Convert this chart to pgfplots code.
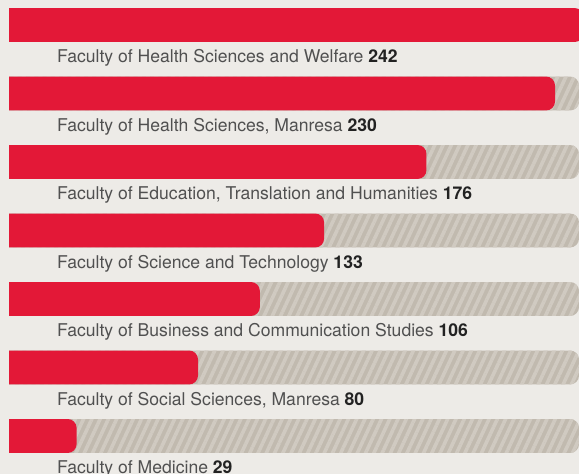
\documentclass[border=0pt]{standalone}
\usepackage{pgfplots}
\pgfplotsset{compat=1.18}
\usepackage{pgfplotstable}
\usetikzlibrary{patterns.meta}
\usepackage{fontspec}
\setmainfont{TeX Gyre Heros}
\definecolor{barred}{HTML}{E31837}
\definecolor{bgc}{HTML}{EDEBE7}
\definecolor{trackdark}{HTML}{C1BAAF}
\definecolor{tracklight}{HTML}{D0CAC1}
\definecolor{txt}{HTML}{505050}
\definecolor{num}{HTML}{222222}

\pgfplotstableread{
idx value track
0 242 240.1
1 230 240.1
2 176 240.1
3 133 240.1
4 106 240.1
5 80 240.1
6 29 240.1
}\data

\begin{document}
\begin{tikzpicture}
\fill[bgc] (0,0) rectangle (579bp,474bp);
\begin{scope}
\clip (9bp,-5bp) rectangle (579bp,480bp);
\begin{axis}[at={(-20bp,0bp)}, anchor=south west, scale only axis,
  width=599bp, height=474bp, hide axis,
  xmin=-3.6, xmax=248.08, ymin=-0.365, ymax=6.555, y dir=reverse,
  bar width=0.496, clip=false]
\addplot[xbar, bar shift=0pt, draw=none, rounded corners=9bp,
  preaction={fill=trackdark},
  pattern={Lines[angle=65,distance=7.5bp,line width=3.6bp]}, pattern color=tracklight]
  table[x expr=\thisrow{track}+8, y=idx] {\data};
\addplot[xbar, bar shift=0pt, draw=none, fill=barred, rounded corners=9bp]
  table[x expr=\thisrow{value}+8, y=idx] {\data};
\tikzset{lab/.style={anchor=base west, font=\fontsize{17.65}{20}\selectfont, text=txt, inner sep=0pt}}
\node[lab] at (axis cs:28.76,0.55) {Faculty of Health Sciences and Welfare \textbf{\color{num}242}};
\node[lab] at (axis cs:28.76,1.55) {Faculty of Health Sciences, Manresa \textbf{\color{num}230}};
\node[lab] at (axis cs:28.76,2.55) {Faculty of Education, Translation and Humanities \textbf{\color{num}176}};
\node[lab] at (axis cs:28.76,3.55) {Faculty of Science and Technology \textbf{\color{num}133}};
\node[lab] at (axis cs:28.76,4.55) {Faculty of Business and Communication Studies \textbf{\color{num}106}};
\node[lab] at (axis cs:28.76,5.55) {Faculty of Social Sciences, Manresa \textbf{\color{num}80}};
\node[lab] at (axis cs:28.76,6.55) {Faculty of Medicine \textbf{\color{num}29}};
\end{axis}
\end{scope}
\pgfresetboundingbox
\useasboundingbox (0,0) rectangle (579bp,474bp);
\end{tikzpicture}
\end{document}
